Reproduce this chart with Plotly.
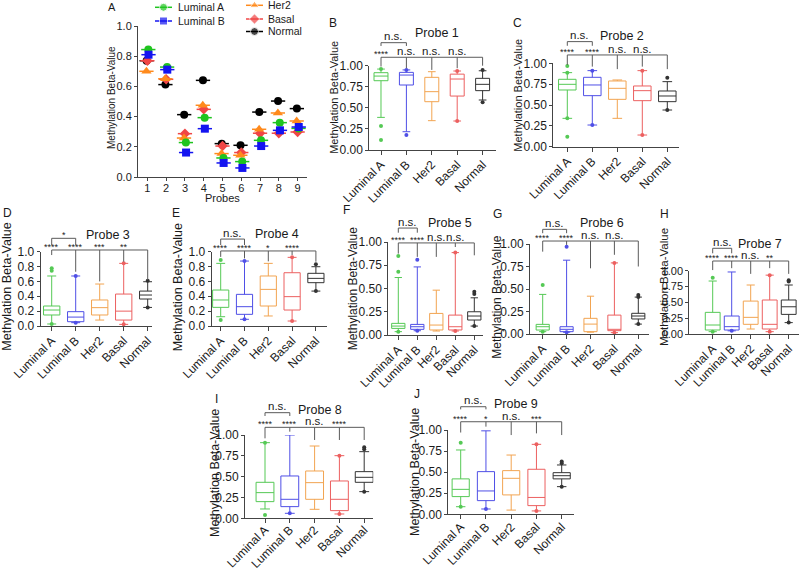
import plotly.graph_objects as go

W, H = 800, 571
FONT = "Arial, 'Liberation Sans', sans-serif"

# ---------------- data ----------------
groups = ["Luminal A", "Luminal B", "Her2", "Basal", "Normal"]
probes = [1, 2, 3, 4, 5, 6, 7, 8, 9]

# Panel A: mean methylation beta-values per probe
mean_lumA = [0.844, 0.728, 0.228, 0.393, 0.126, 0.102, 0.243, 0.360, 0.322]
mean_lumB = [0.810, 0.711, 0.162, 0.320, 0.093, 0.060, 0.205, 0.309, 0.331]
mean_her2 = [0.700, 0.650, 0.258, 0.475, 0.155, 0.144, 0.316, 0.424, 0.371]
mean_basal = [0.770, 0.647, 0.287, 0.448, 0.205, 0.162, 0.290, 0.290, 0.298]
mean_normal = [0.770, 0.612, 0.413, 0.640, 0.221, 0.210, 0.430, 0.503, 0.453]

# Panels B-J: box statistics per probe (order of groups)
box_q1 = [
    [0.822, 0.771, 0.573, 0.640, 0.704],
    [0.680, 0.612, 0.568, 0.552, 0.540],
    [0.148, 0.058, 0.148, 0.080, 0.363],
    [0.251, 0.157, 0.269, 0.215, 0.583],
    [0.071, 0.061, 0.054, 0.054, 0.161],
    [0.044, 0.026, 0.026, 0.037, 0.167],
    [0.063, 0.063, 0.153, 0.079, 0.310],
    [0.200, 0.140, 0.228, 0.092, 0.432],
    [0.210, 0.162, 0.230, 0.103, 0.420],
]
box_median = [
    [0.877, 0.889, 0.692, 0.842, 0.779],
    [0.748, 0.740, 0.700, 0.672, 0.608],
    [0.215, 0.120, 0.247, 0.200, 0.417],
    [0.350, 0.260, 0.493, 0.395, 0.641],
    [0.096, 0.089, 0.107, 0.089, 0.204],
    [0.081, 0.052, 0.110, 0.052, 0.200],
    [0.142, 0.116, 0.263, 0.153, 0.430],
    [0.308, 0.228, 0.428, 0.228, 0.492],
    [0.296, 0.277, 0.427, 0.200, 0.458],
]
box_q3 = [
    [0.917, 0.921, 0.862, 0.900, 0.850],
    [0.808, 0.832, 0.788, 0.728, 0.668],
    [0.269, 0.193, 0.350, 0.430, 0.470],
    [0.484, 0.426, 0.673, 0.717, 0.709],
    [0.125, 0.114, 0.232, 0.214, 0.250],
    [0.107, 0.081, 0.174, 0.210, 0.230],
    [0.342, 0.284, 0.520, 0.537, 0.537],
    [0.432, 0.508, 0.568, 0.448, 0.560],
    [0.420, 0.506, 0.518, 0.534, 0.494],
]
box_lower = [
    [0.387, 0.217, 0.348, 0.344, 0.593],
    [0.340, 0.260, 0.340, 0.140, 0.440],
    [0.027, 0.045, 0.080, 0.022, 0.250],
    [0.125, 0.090, 0.135, 0.067, 0.470],
    [0.036, 0.046, 0.043, 0.043, 0.096],
    [0.026, 0.020, 0.020, 0.015, 0.110],
    [0.037, 0.050, 0.079, 0.037, 0.180],
    [0.112, 0.060, 0.108, 0.052, 0.320],
    [0.090, 0.063, 0.050, 0.040, 0.328],
]
box_upper = [
    [0.960, 0.950, 0.929, 0.937, 0.940],
    [0.888, 0.912, 0.800, 0.912, 0.780],
    [0.673, 0.673, 0.565, 0.843, 0.596],
    [0.843, 0.874, 0.843, 0.924, 0.798],
    [0.618, 0.732, 0.482, 0.886, 0.400],
    [0.440, 0.820, 0.420, 0.790, 0.410],
    [0.837, 0.980, 0.774, 0.930, 0.774],
    [0.908, 1.000, 0.868, 0.752, 0.800],
    [0.763, 0.990, 0.703, 0.830, 0.585],
]
box_outliers = [
    [[0.96, 0.285, 0.119], [0.95, 0.178], [], [0.937, 0.344], [0.95, 0.565]],
    [[0.968, 0.888, 0.34, 0.12], [0.912, 0.26], [], [0.912, 0.14], [0.828, 0.44]],
    [[0.776, 0.745, 0.027], [0.673, 0.045], [], [0.843, 0.022], [0.61, 0.25]],
    [[0.888, 0.08], [0.874, 0.09], [], [0.924, 0.067], [0.83, 0.47]],
    [[0.85, 0.679, 0.036], [0.81, 0.046], [], [0.886, 0.043], [0.464, 0.44, 0.096]],
    [[0.545, 0.026], [0.97, 0.02], [], [0.79, 0.015], [0.433, 0.41, 0.11]],
    [[0.89, 0.037], [0.05], [], [0.93, 0.037], [0.85, 0.83, 0.18]],
    [[0.908, 0.04], [0.06], [], [0.752, 0.052], [0.852, 0.83, 0.32]],
    [[0.85, 0.09], [0.063], [], [0.83, 0.04], [0.625, 0.605, 0.328]],
]
sig_pair = ["n.s.", "n.s.", "*", "n.s.", "n.s.", "n.s.", "n.s.", "n.s.", "n.s."]
sig_vs_normal = [
    ["****", "n.s.", "n.s.", "n.s."],
    ["****", "****", "n.s.", "n.s."],
    ["****", "****", "***", "**"],
    ["****", "****", "*", "****"],
    ["****", "****", "n.s.", "n.s."],
    ["****", "****", "n.s.", "n.s."],
    ["****", "****", "n.s.", "**"],
    ["****", "****", "n.s.", "****"],
    ["****", "*", "n.s.", "***"],
]

# ---------------- styles ----------------
a_colors = ["#1fc41f", "#1414f0", "#ff8a1c", "#f04646", "#000000"]
a_symbols = ["circle", "square", "triangle-up", "diamond", "circle"]
a_offsets = [0.05, 0.06, -0.05, 0.0, -0.04]
box_colors = ["#55c955", "#4f4fe6", "#f2a451", "#ec6060", "#333333"]
AX = "#444444"
TXT = "#1a1a1a"

def px(x):
    return x / W

def py(y):
    return 1 - y / H

fig = go.Figure()
layout = dict(
    width=W, height=H, margin=dict(l=0, r=0, t=0, b=0, pad=0), autosize=False,
    paper_bgcolor="white", plot_bgcolor="rgba(0,0,0,0)",
    showlegend=False, font=dict(family=FONT, color=TXT),
)
annotations = []
shapes = []

def ann(x, y, text, size, **kw):
    d = dict(x=px(x), y=py(y), xref="paper", yref="paper", text=text,
             showarrow=False, font=dict(size=size, family=FONT, color=TXT),
             xanchor="center", yanchor="middle")
    d.update(kw)
    annotations.append(d)

# ---------------- Panel A ----------------
a_x0, a_x1, a_top, a_bot = 138, 307, 26, 177
layout["xaxis"] = dict(domain=[px(a_x0), px(a_x1)], range=[0.5, 9.5], anchor="y",
                       tickvals=probes, ticktext=[str(p) for p in probes], automargin=False,
                       showline=True, linecolor=AX, linewidth=1, ticks="outside",
                       ticklen=3, tickcolor=AX, showgrid=False, zeroline=False,
                       ticklabelstandoff=-2,
                       tickfont=dict(size=11, family=FONT, color=TXT))
layout["yaxis"] = dict(domain=[py(a_bot), py(a_top)], range=[0, 1], anchor="x",
                       tickvals=[0, 0.2, 0.4, 0.6, 0.8, 1.0], automargin=False,
                       ticktext=["0.0", "0.2", "0.4", "0.6", "0.8", "1.0"],
                       showline=True, linecolor=AX, linewidth=1, ticks="outside",
                       ticklen=3, tickcolor=AX, showgrid=False, zeroline=False,
                       tickfont=dict(size=11, family=FONT, color=TXT))
series_a = [mean_lumA, mean_lumB, mean_her2, mean_basal, mean_normal]
draw_order = [4, 3, 2, 0, 1]
for gi in draw_order:
    vals = series_a[gi]
    fig.add_trace(go.Scatter(
        x=[p + a_offsets[gi] for p in probes], y=vals, mode="markers",
        marker=dict(symbol=a_symbols[gi], color=a_colors[gi], size=8 if gi != 2 else 9,
                    line=dict(width=0)),
        error_x=dict(type="constant", value=0.38, width=0, thickness=1.5, color=a_colors[gi]),
        xaxis="x", yaxis="y", cliponaxis=False, hoverinfo="skip"))
ann(111.7, 7, "A", 11)
ann(222.5, 198, "Probes", 11)
ann(112, 98, "Methylation Beta-Value", 10, textangle=-90)

# legend on a pixel overlay axis
layout["xaxis11"] = dict(domain=[0, 1], range=[0, W], visible=False, anchor="y11", automargin=False)
layout["yaxis11"] = dict(domain=[0, 1], range=[H, 0], visible=False, anchor="x11", automargin=False)
leg = [(0, 155, 172, 7.3, 176), (1, 155, 172, 21, 176),
       (2, 246, 263, 5.3, 266), (3, 246, 263, 19, 266), (4, 246, 263, 31.5, 266)]
for gi, lx0, lx1, ly, tx in leg:
    fig.add_trace(go.Scatter(
        x=[lx0, (lx0 + lx1) / 2, lx1], y=[ly, ly, ly], mode="lines+markers",
        line=dict(color=a_colors[gi], width=1.5),
        marker=dict(symbol=a_symbols[gi], color=a_colors[gi], size=[0, 8, 0]),
        xaxis="x11", yaxis="y11", cliponaxis=False, hoverinfo="skip"))
    ann(tx, ly, groups[gi], 10.5, xanchor="left")

# ---------------- Panels B-J ----------------
panels = [
    dict(letter="B", lp=(332.7, 22.7), x0=369.3, x1=496, c0=381, sp=25.4, ytop=65.7, ybot=150,
         bw=0.55, step=0.25, title=(436.7, 33.3), ytitle=(333.3, 97.5), ytfs=11, tfs=12, so=-2,
         main=1.10, pair=1.273, pairdrop=1.234, drops=[0.99, 0.97, 0.95, 0.97, 1.0]),
    dict(letter="C", lp=(517.7, 22.7), x0=553.3, x1=679.3, c0=567.3, sp=25, ytop=63.3, ybot=146.7,
         bw=0.7, step=0.25, title=(621.7, 36.5), ytitle=(518, 95.7), ytfs=11, tfs=12, so=-2,
         main=1.10, pair=1.26, pairdrop=1.21, drops=[0.98, 0.96, 0.93, 0.96, 0.93]),
    dict(letter="D", lp=(7.3, 213), x0=40.7, x1=152, c0=51.7, sp=24, ytop=251.7, ybot=326,
         bw=0.68, step=0.2, title=(107.5, 235), ytitle=(6.7, 287), ytfs=12.5, tfs=12, so=-2,
         main=1.023, pair=1.18, pairdrop=1.09, drops=[0.955, 0.73, 0.6, 0.865, 0.62]),
    dict(letter="E", lp=(175.7, 213), x0=211.7, x1=327.3, c0=220.7, sp=23.8, ytop=251.7, ybot=326,
         bw=0.68, step=0.2, title=(276.7, 234.3), ytitle=(178.3, 287), ytfs=12.5, tfs=12, so=-2,
         main=1.01, pair=1.17, pairdrop=1.09, drops=[0.93, 0.91, 0.87, 0.955, 0.865]),
    dict(letter="F", lp=(346, 210), x0=388.3, x1=483.3, c0=398.3, sp=19, ytop=242, ybot=335,
         bw=0.7, step=0.25, title=(450, 223.5), ytitle=(353.3, 288), ytfs=12, tfs=12, so=-2,
         main=0.99, pair=1.15, pairdrop=1.10, drops=[0.875, 0.84, 0.84, 0.946, 0.857]),
    dict(letter="G", lp=(497.3, 214), x0=530, x1=649.3, c0=542.7, sp=23.9, ytop=244, ybot=334,
         bw=0.55, step=0.25, title=(602, 223.5), ytitle=(496.7, 297), ytfs=12, tfs=12, so=-2,
         main=1.033, pair=1.163, pairdrop=1.12, drops=[0.915, 0.99, 0.73, 0.88, 0.75]),
    dict(letter="H", lp=(664, 214), x0=689.3, x1=799.3, c0=712.7, sp=19, ytop=270.7, ybot=334,
         bw=0.78, step=0.25, title=(760, 243.5), ytitle=(664, 287), ytfs=11.5, tfs=11, so=-2,
         main=1.153, pair=1.354, pairdrop=1.275, drops=[1.01, 1.04, 0.95, 1.04, 0.95]),
    dict(letter="I", lp=(216, 399), x0=245, x1=373.3, c0=265, sp=24.8, ytop=435, ybot=518.3,
         bw=0.72, step=0.25, title=(320, 409.5), ytitle=(215, 473), ytfs=12.5, tfs=12, so=-5,
         main=1.092, pair=1.268, pairdrop=1.228, drops=[0.96, 1.04, 0.94, 0.94, 0.94]),
    dict(letter="J", lp=(417, 394), x0=448.3, x1=574, c0=460.7, sp=25.25, ytop=430, ybot=514.3,
         bw=0.68, step=0.25, title=(516, 403.5), ytitle=(415, 472), ytfs=12.5, tfs=12, so=-4,
         main=1.098, pair=1.276, pairdrop=1.245, drops=[0.97, 1.04, 0.94, 0.96, 0.94]),
]

for k, P in enumerate(panels):
    n = k + 2
    xa, ya = f"x{n}", f"y{n}"
    rng = [(P["x0"] - P["c0"]) / P["sp"], (P["x1"] - P["c0"]) / P["sp"]]
    if P["step"] == 0.25:
        tv = [0, 0.25, 0.5, 0.75, 1.0]
        tt = ["0.00", "0.25", "0.50", "0.75", "1.00"]
    else:
        tv = [0, 0.2, 0.4, 0.6, 0.8, 1.0]
        tt = ["0.0", "0.2", "0.4", "0.6", "0.8", "1.0"]
    layout[f"xaxis{n}"] = dict(domain=[px(P["x0"]), px(P["x1"])], range=rng, anchor=ya,
                              tickvals=list(range(5)), ticktext=groups, tickangle=-45,
                              automargin=False, ticklabelstandoff=P["so"],
                              showline=True, linecolor=AX, linewidth=1, ticks="outside",
                              ticklen=4, tickcolor=AX, showgrid=False, zeroline=False,
                              tickfont=dict(size=12, family=FONT, color=TXT))
    layout[f"yaxis{n}"] = dict(domain=[py(P["ybot"]), py(P["ytop"])], range=[0, 1], anchor=xa,
                              tickvals=tv, ticktext=tt, automargin=False,
                              showline=True, linecolor=AX, linewidth=1, ticks="outside",
                              ticklen=3, tickcolor=AX, showgrid=False, zeroline=False,
                              tickfont=dict(size=P["tfs"], family=FONT, color=TXT))

    def vy(v, P=P):
        return py(P["ybot"] - v * (P["ybot"] - P["ytop"]))

    def vpx(v, P=P):
        return P["ybot"] - v * (P["ybot"] - P["ytop"])

    for gi in range(5):
        fig.add_trace(go.Box(
            x=[gi], q1=[box_q1[k][gi]], median=[box_median[k][gi]], q3=[box_q3[k][gi]],
            lowerfence=[box_lower[k][gi]], upperfence=[box_upper[k][gi]],
            width=P["bw"], whiskerwidth=0.55, boxpoints=False,
            line=dict(color=box_colors[gi], width=1), fillcolor="rgba(255,255,255,0)",
            xaxis=xa, yaxis=ya, hoverinfo="skip"))
        outs = box_outliers[k][gi]
        if outs:
            fig.add_trace(go.Scatter(
                x=[gi] * len(outs), y=outs, mode="markers",
                marker=dict(color=box_colors[gi], size=4, symbol="circle"),
                xaxis=xa, yaxis=ya, cliponaxis=False, hoverinfo="skip"))

    # significance brackets
    lc = "#5a5a5a"
    main_y = vy(P["main"])
    shapes.append(dict(type="line", xref=xa, yref="paper", x0=0, x1=4, y0=main_y, y1=main_y,
                       line=dict(color=lc, width=1)))
    for gi in range(5):
        shapes.append(dict(type="line", xref=xa, yref="paper", x0=gi, x1=gi,
                           y0=main_y, y1=vy(P["drops"][gi]), line=dict(color=lc, width=1)))
    pair_y = vy(P["pair"])
    pd_y = vy(P["pairdrop"])
    shapes.append(dict(type="path", xref=xa, yref="paper",
                       path=f"M 0,{pd_y} L 0,{pair_y} L 1,{pair_y} L 1,{pd_y}",
                       line=dict(color=lc, width=1)))
    main_px = vpx(P["main"])
    pair_px = vpx(P["pair"])
    for gi, lab in enumerate(sig_vs_normal[k]):
        star = "*" in lab
        annotations.append(dict(
            x=gi, y=py(main_px - (3.0 if star else 6.0)), xref=xa, yref="paper",
            text=lab, showarrow=False, xanchor="center", yanchor="middle",
            font=dict(size=9 if star else 11.5, family=FONT, color=TXT)))
    lab = sig_pair[k]
    star = "*" in lab
    annotations.append(dict(
        x=0.5, y=py(pair_px - (3.0 if star else 6.5)), xref=xa, yref="paper",
        text=lab, showarrow=False, xanchor="center", yanchor="middle",
        font=dict(size=9 if star else 11.5, family=FONT, color=TXT)))

    ann(P["lp"][0], P["lp"][1], P["letter"], 12)
    ann(P["title"][0], P["title"][1], f"Probe {probes[k]}", 12.5)
    ann(P["ytitle"][0], P["ytitle"][1], "Methylation Beta-Value", P["ytfs"], textangle=-90)

layout["annotations"] = annotations
layout["shapes"] = shapes
layout["boxmode"] = "overlay"
fig.update_layout(**layout)
fig.write_html("out.html",
               config={"displayModeBar": False, "staticPlot": True},
               post_script="document.body.style.margin='0px';document.body.style.padding='0px';")
